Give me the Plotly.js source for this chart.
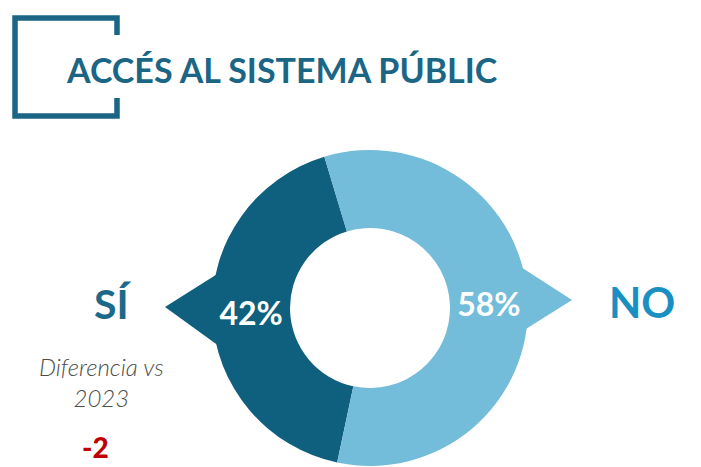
<!DOCTYPE html>
<html>
<head>
<meta charset="utf-8">
<script src="https://cdn.plot.ly/plotly-3.0.1.min.js"></script>
<style>html,body{margin:0;padding:0;background:#fff;}#chart{width:701px;height:467px;}</style>
</head>
<body>
<div id="chart"></div>
<script>
// ---- data ----
const categories = ["SÍ", "NO"];
const values = [42, 58];
const sliceColors = ["#0f5f7e", "#73bcda"];
const titleText = "ACCÉS AL SISTEMA PÚBLIC";
const diffLabel = "Diferencia vs<br>2023";
const diffValue = "-2";

const W = 701, H = 467;
const px = x => x / W;
const py = y => 1 - y / H;
const pathOf = pts => "M " + pts.map(p => px(p[0]).toFixed(5) + "," + py(p[1]).toFixed(5)).join(" L ") + " Z";

const cx = 370, cy = 308, R = 158;

const trace = {
  type: "pie",
  labels: categories,
  values: values,
  sort: false,
  direction: "counterclockwise",
  rotation: -168,
  hole: 80 / 158,
  marker: { colors: sliceColors, line: { width: 0 } },
  texttemplate: "%{value}%",
  textposition: "inside",
  insidetextorientation: "horizontal",
  textfont: { family: "Lato, 'Open Sans', sans-serif", size: 32, color: "#ffffff", weight: 700 },
  showlegend: false,
  hoverinfo: "none",
  domain: { x: [px(cx - R), px(cx + R)], y: [py(cy + R), py(cy - R)] }
};

const shapes = [
  // left arrow
  { type: "path", xref: "paper", yref: "paper", layer: "below",
    path: pathOf([[230, 266], [165, 307], [230, 354]]),
    fillcolor: sliceColors[0], line: { width: 0 } },
  // right arrow
  { type: "path", xref: "paper", yref: "paper", layer: "below",
    path: pathOf([[510, 260], [572, 300], [510, 339]]),
    fillcolor: sliceColors[1], line: { width: 0 } },
  // title bracket
  { type: "path", xref: "paper", yref: "paper",
    path: "M " + px(117) + "," + py(35) + " L " + px(117) + "," + py(18) + " L " + px(15) + "," + py(18) +
          " L " + px(15) + "," + py(116) + " L " + px(117) + "," + py(116) + " L " + px(117) + "," + py(98),
    line: { color: "#1b6585", width: 5.5 } }
];

const annotations = [
  { text: "<b>" + titleText + "</b>", xref: "paper", yref: "paper", x: px(64), y: py(69),
    xanchor: "left", yanchor: "middle", showarrow: false,
    font: { family: "Lato, sans-serif", size: 34, color: "#1b6585" } },
  { text: "<b>" + categories[0] + "</b>", xref: "paper", yref: "paper", x: px(112), y: py(303),
    xanchor: "center", yanchor: "middle", showarrow: false,
    font: { family: "Lato, sans-serif", size: 41, color: "#1b6a8a" } },
  { text: "<b>" + categories[1] + "</b>", xref: "paper", yref: "paper", x: px(642), y: py(302),
    xanchor: "center", yanchor: "middle", showarrow: false,
    font: { family: "Lato, sans-serif", size: 42, color: "#1a8fc2" } },
  { text: diffLabel, xref: "paper", yref: "paper", x: px(101), y: py(382),
    xanchor: "center", yanchor: "middle", showarrow: false,
    font: { family: "Lato, sans-serif", size: 24, color: "#4d4d4d", weight: 300, style: "italic" } },
  { text: diffValue, xref: "paper", yref: "paper", x: px(95), y: py(447),
    xanchor: "center", yanchor: "middle", showarrow: false,
    font: { family: "Lato, sans-serif", size: 28, color: "#c00000", weight: 900 } }
];

const layout = {
  width: W, height: H,
  margin: { l: 0, r: 0, t: 0, b: 0 },
  paper_bgcolor: "#ffffff",
  shapes: shapes,
  annotations: annotations,
  showlegend: false
};

Plotly.newPlot("chart", [trace], layout, { displayModeBar: false, staticPlot: true });
</script>
</body>
</html>
